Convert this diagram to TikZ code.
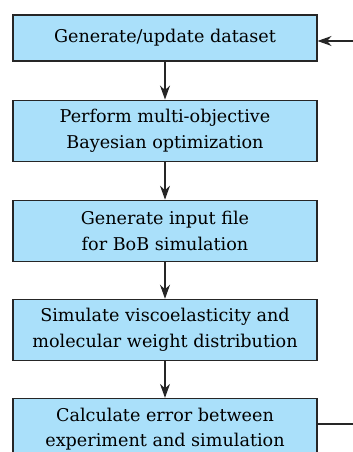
\documentclass[tikz,border=0pt]{standalone}
\usepackage{fontspec}
\setmainfont{DejaVu Serif}
\usetikzlibrary{arrows.meta,positioning}
\definecolor{boxblue}{RGB}{170,224,250}
\definecolor{linegray}{RGB}{38,38,38}
\tikzset{
  >={Stealth[length=14pt,width=10pt,inset=4.5pt]},
  st/.style={rectangle, draw=linegray, fill=boxblue, line width=1.1pt,
    minimum width=304pt, minimum height=#1, inner sep=0pt, align=center,
    font=\fontsize{17.6pt}{25.5pt}\selectfont},
  ar/.style={->, draw=linegray, line width=1.1pt}
}
\begin{document}
\begin{tikzpicture}[x=1pt,y=1pt]
  \useasboundingbox (0,0) rectangle (353,-452);
  \node[st=46pt] (gen) at (165,-38) {Generate/update dataset};
  \node[st=61pt, below=38pt of gen] (mobo) {Perform multi-objective\\Bayesian optimization};
  \node[st=61pt, below=38pt of mobo] (input) {Generate input file\\for BoB simulation};
  \node[st=61pt, below=37pt of input] (sim) {Simulate viscoelasticity and\\molecular weight distribution};
  \node[st=61pt, below=37pt of sim] (err) {Calculate error between\\experiment and simulation};
  \coordinate (loopin) at (353,-41);
  \coordinate (loopout) at (353,-424);
  % flow
  \draw[ar] (gen) -- (mobo);
  \draw[ar] (mobo) -- (input);
  \draw[ar] (input) -- (sim);
  \draw[ar] (sim) -- (err);
  % loop back
  \draw[ar] (loopin) -- (gen.east |- loopin);
  \draw[draw=linegray, line width=1.1pt] (err.east |- loopout) -- (loopout);
\end{tikzpicture}
\end{document}
